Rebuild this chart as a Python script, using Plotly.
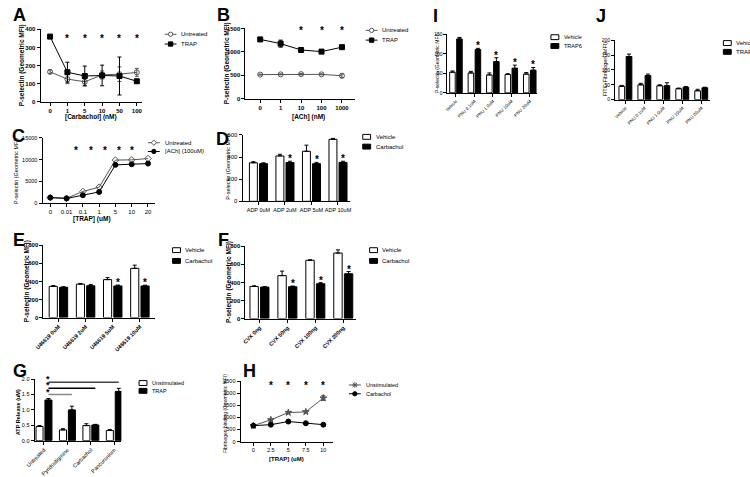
import plotly.graph_objects as go

# ---------------- data ----------------
A_conc = ["0", "1", "5", "10", "50", "100"]
A_untreated = [165, 125, 110, 148, 152, 162]
A_untreated_err = [10, 25, 20, 22, 40, 22]
A_trap = [360, 163, 142, 145, 142, 113]
A_trap_err = [0, 55, 55, 57, 105, 8]
A_sig = [1, 2, 3, 4, 5]

B_conc = ["0", "1", "10", "100", "1000"]
B_untreated = [515, 520, 525, 520, 490]
B_untreated_err = [10, 10, 15, 10, 40]
B_trap = [1265, 1175, 1040, 1005, 1100]
B_trap_err = [35, 75, 45, 20, 20]
B_sig = [2, 3, 4]

C_conc = ["0", "0.01", "0.1", "1", "5", "10", "20"]
C_untreated = [1300, 1150, 2700, 3700, 9900, 9950, 10250]
C_ach = [1300, 1100, 1850, 2600, 8800, 8950, 9100]

D_cats = ["ADP 0uM", "ADP 2uM", "ADP 5uM", "ADP 10uM"]
D_vehicle = [348, 410, 452, 560]
D_vehicle_err = [10, 15, 55, 8]
D_carb = [340, 350, 340, 352]
D_carb_err = [8, 12, 12, 10]
D_sig = [1, 2, 3]

E_cats = ["U46619 0uM", "U46619 2uM", "U46619 5uM", "U46619 10uM"]
E_vehicle = [345, 370, 420, 545]
E_vehicle_err = [10, 8, 22, 35]
E_carb = [335, 352, 350, 350]
E_carb_err = [6, 15, 10, 8]
E_sig = [2, 3]

F_cats = ["CVX 0ng", "CVX 50ng", "CVX 100ng", "CVX 200ng"]
F_vehicle = [355, 475, 645, 725]
F_vehicle_err = [8, 50, 5, 35]
F_carb = [348, 352, 385, 495]
F_carb_err = [5, 8, 12, 25]
F_sig = [1, 2, 3]

G_cats = ["Untreated", "Pyridostigmine", "Carbachol", "Pancuronium"]
G_unstim = [0.46, 0.35, 0.49, 0.33]
G_unstim_err = [0.03, 0.04, 0.06, 0.03]
G_trap = [1.32, 1.0, 0.51, 1.6]
G_trap_err = [0.05, 0.12, 0.02, 0.1]
G_compare = [1, 2, 3]           # groups compared with Untreated (TRAP)

H_trap_conc = [0, 2.5, 5, 7.5, 10]
H_unstim = [660, 900, 1200, 1230, 1800]
H_unstim_err = [20, 30, 30, 30, 100]
H_carb = [660, 700, 830, 760, 700]
H_sig = [2.5, 5, 7.5, 10]

I_cats = ["Vehicle", "PNU 0.1uM", "PNU 1.0uM", "PNU 10uM", "PNU 20uM"]
I_vehicle = [53, 51, 46, 47, 48]
I_vehicle_err = [3, 4, 5, 2, 4]
I_trap6 = [138, 111, 80, 63, 58]
I_trap6_err = [4, 3, 10, 8, 7]
I_sig = [1, 2, 3, 4]

J_cats = ["Vehicle", "PNU 0.1uM", "PNU 1.0uM", "PNU 10uM", "PNU 20uM"]
J_vehicle = [45, 50, 47, 37, 30]
J_vehicle_err = [3, 5, 3, 2, 5]
J_trap = [145, 81, 47, 42, 40]
J_trap_err = [8, 5, 10, 2, 2]

# ---------------- helpers ----------------
W, H = 750, 477
FONT = "Arial, Liberation Sans, sans-serif"
fig = go.Figure()
annotations = []
shapes = []
layout = {}


def fx(x):
    return x / W


def fy(y):
    return 1 - y / H


def ax_id(n):
    return ("x" if n == 1 else f"x{n}"), ("y" if n == 1 else f"y{n}")


def axes(n, x0, x1, ytop, ybot, xr, yr, xvals, xtext, yvals, ytext=None,
         tickangle=0, xfs=6, yfs=6, bold=False):
    key = "" if n == 1 else str(n)
    w = "bold" if bold else "normal"
    common = dict(showline=True, linecolor="black", linewidth=1, ticks="outside",
                  ticklen=3, tickwidth=1, tickcolor="black", showgrid=False,
                  zeroline=False, fixedrange=True)
    layout["xaxis" + key] = dict(domain=[fx(x0), fx(x1)], range=xr, anchor="y" + key,
                                 tickmode="array", tickvals=xvals, ticktext=xtext,
                                 tickangle=tickangle,
                                 tickfont=dict(size=xfs, family=FONT, color="black", weight=w),
                                 **common)
    if ytext is None:
        ytext = [f"{v:g}" for v in yvals]
    layout["yaxis" + key] = dict(domain=[fy(ybot), fy(ytop)], range=yr, anchor="x" + key,
                                 tickmode="array", tickvals=yvals, ticktext=ytext,
                                 tickfont=dict(size=yfs, family=FONT, color="black", weight=w),
                                 **common)


def text(x, y, s, size=6, bold=False, angle=0, xanchor="center", yanchor="middle"):
    annotations.append(dict(xref="paper", yref="paper", x=fx(x), y=fy(y),
                            text=f"<b>{s}</b>" if bold else s, showarrow=False,
                            textangle=angle, xanchor=xanchor, yanchor=yanchor,
                            font=dict(size=size, family=FONT, color="black")))


def letter(x, y, s):
    text(x, y, s, size=18, bold=True, xanchor="left", yanchor="top")


def star(n, x, y, size=10, yshift=-5):
    xa, ya = ax_id(n)
    annotations.append(dict(xref=xa, yref=ya, x=x, y=y, text="<b>*</b>", showarrow=False,
                            yanchor="bottom", yshift=yshift,
                            font=dict(size=size, family=FONT, color="black")))


def line_series(n, xs, ys, errs, symbol, color):
    xa, ya = ax_id(n)
    tr = dict(x=xs, y=ys, mode="lines+markers", xaxis=xa, yaxis=ya,
              line=dict(color=color, width=1), cliponaxis=False,
              marker=dict(symbol=symbol, size=5, color=color,
                          line=dict(color=color, width=1)))
    if errs is not None:
        tr["error_y"] = dict(type="data", array=errs, color=color, thickness=1, width=2)
    fig.add_trace(go.Scatter(**tr))


BW = 0.3
OFF_A = -0.34
OFF_B = 0.04


def bar_series(n, vals, errs, fill, offset):
    xa, ya = ax_id(n)
    fig.add_trace(go.Bar(x=list(range(len(vals))), y=vals, width=BW, offset=offset,
                         xaxis=xa, yaxis=ya,
                         marker=dict(color=fill, line=dict(color="black", width=1)),
                         error_y=dict(type="data", array=errs, arrayminus=[0] * len(errs),
                                      symmetric=False, color="black", thickness=1, width=2)))


def bar_stars(n, idxs, vals, errs, offset):
    for i in idxs:
        star(n, i + offset + BW / 2, vals[i] + errs[i])


def rect_px(x0, y0, x1, y1, fill, lw=1):
    shapes.append(dict(type="rect", xref="paper", yref="paper", x0=fx(x0), x1=fx(x1),
                       y0=fy(y1), y1=fy(y0), fillcolor=fill,
                       line=dict(color="black", width=lw)))


def legend_box(x, y, fill, label, size=6):
    rect_px(x, y - 2.5, x + 8, y + 2.5, fill)
    text(x + 11, y, label, size=size, xanchor="left")


def legend_line(x, y, symbol, color, label, size=6):
    shapes.append(dict(type="line", xref="paper", yref="paper", x0=fx(x), x1=fx(x + 12),
                       y0=fy(y), y1=fy(y), line=dict(color=color, width=1)))
    cx, r = x + 6, 2.2
    if symbol in ("circle", "circle-open"):
        shapes.append(dict(type="circle", xref="paper", yref="paper",
                           x0=fx(cx - r), x1=fx(cx + r), y0=fy(y + r), y1=fy(y - r),
                           fillcolor=color if symbol == "circle" else "white",
                           line=dict(color=color, width=1)))
    elif symbol == "square":
        shapes.append(dict(type="rect", xref="paper", yref="paper",
                           x0=fx(cx - r), x1=fx(cx + r), y0=fy(y + r), y1=fy(y - r),
                           fillcolor=color, line=dict(color=color, width=1)))
    elif symbol == "diamond-open":
        p = f"M {fx(cx - r - .5)},{fy(y)} L {fx(cx)},{fy(y - r - .5)} L {fx(cx + r + .5)},{fy(y)} L {fx(cx)},{fy(y + r + .5)} Z"
        shapes.append(dict(type="path", xref="paper", yref="paper", path=p,
                           fillcolor="white", line=dict(color=color, width=1)))
    elif symbol == "star":
        p = f"M {fx(cx - r - .5)},{fy(y)} L {fx(cx + r + .5)},{fy(y)} M {fx(cx)},{fy(y - r - .5)} L {fx(cx)},{fy(y + r + .5)}"
        p += f" M {fx(cx - r)},{fy(y - r)} L {fx(cx + r)},{fy(y + r)} M {fx(cx - r)},{fy(y + r)} L {fx(cx + r)},{fy(y - r)}"
        shapes.append(dict(type="path", xref="paper", yref="paper", path=p,
                           line=dict(color=color, width=1)))
    text(x + 15, y, label, size=size, xanchor="left")


GREY = "#555555"
YT = "P-selectin (Geometric MFI)"

# ---------------- Panel A ----------------
axes(1, 32, 135, 27, 101, [-0.55, 5.3], [0, 400],
     list(range(len(A_conc))), A_conc, [0, 100, 200, 300, 400], bold=True)
line_series(1, list(range(len(A_conc))), A_untreated, A_untreated_err, "circle-open", GREY)
line_series(1, list(range(len(A_conc))), A_trap, A_trap_err, "square", "black")
for i in A_sig:
    star(1, i, 335)
letter(2, 0, "A")
text(13, 64, YT, size=6.5, bold=True, angle=-90)
text(83, 117, "[Carbachol] (nM)", size=6.5, bold=True)
legend_line(158, 32, "circle-open", GREY, "Untreated")
legend_line(158, 42, "square", "black", "TRAP")

# ---------------- Panel B ----------------
axes(2, 240, 351, 26, 98, [-0.72, 4.63], [0, 1500],
     list(range(len(B_conc))), B_conc, [0, 500, 1000, 1500], bold=True)
line_series(2, list(range(len(B_conc))), B_untreated, B_untreated_err, "circle-open", GREY)
line_series(2, list(range(len(B_conc))), B_trap, B_trap_err, "square", "black")
for i in B_sig:
    star(2, i, 1400)
letter(209, 0, "B")
text(221, 62, YT, size=6.5, bold=True, angle=-90)
text(304, 117, "[ACh] (nM)", size=6.5, bold=True)
legend_line(362, 28, "circle-open", GREY, "Untreated")
legend_line(362, 38, "square", "black", "TRAP")

# ---------------- Panel C ----------------
axes(3, 34, 148, 138, 205, [-0.48, 6.42], [0, 15000],
     list(range(len(C_conc))), C_conc, [0, 5000, 10000, 15000], yfs=5.5)
line_series(3, list(range(len(C_conc))), C_untreated, None, "diamond-open", GREY)
line_series(3, list(range(len(C_conc))), C_ach, None, "circle", "black")
for xs in [1.6, 2.5, 3.35, 4.2, 5.0]:
    star(3, xs, 11500)
letter(1, 124, "C")
text(7, 172, YT, size=5.5, angle=-90)
text(84, 221, "[TRAP] (uM)", size=6.5, bold=True)
legend_line(141, 143, "diamond-open", GREY, "Untreated")
legend_line(141, 152, "circle", "black", "[ACh] (100uM)")

# ---------------- Panel D ----------------
axes(4, 237, 346, 135, 203, [-0.6, 3.45], [0, 600],
     list(range(len(D_cats))), D_cats, [0, 200, 400, 600], xfs=5.5)
bar_series(4, D_vehicle, D_vehicle_err, "white", OFF_A)
bar_series(4, D_carb, D_carb_err, "black", OFF_B)
bar_stars(4, D_sig, D_carb, D_carb_err, OFF_B)
letter(208, 127, "D")
text(222, 168, YT, size=5.5, angle=-90)
legend_box(359, 137, "white", "Vehicle")
legend_box(359, 147, "black", "Carbachol")

# ---------------- Panel E ----------------
axes(5, 35, 148, 248, 322, [-0.55, 3.55], [0, 800],
     list(range(len(E_cats))), E_cats, [0, 200, 400, 600, 800], tickangle=-45, xfs=5.5,
     bold=True)
bar_series(5, E_vehicle, E_vehicle_err, "white", OFF_A)
bar_series(5, E_carb, E_carb_err, "black", OFF_B)
bar_stars(5, E_sig, E_carb, E_carb_err, OFF_B)
letter(2, 230, "E")
text(19, 285, YT, size=6.5, bold=True, angle=-90)
legend_box(166, 253, "white", "Vehicle")
legend_box(166, 264, "black", "Carbachol")

# ---------------- Panel F ----------------
axes(6, 240, 352, 249, 323, [-0.5, 3.45], [0, 800],
     list(range(len(F_cats))), F_cats, [0, 200, 400, 600, 800], tickangle=-45, xfs=5.5,
     bold=True)
bar_series(6, F_vehicle, F_vehicle_err, "white", OFF_A)
bar_series(6, F_carb, F_carb_err, "black", OFF_B)
bar_stars(6, F_sig, F_carb, F_carb_err, OFF_B)
letter(210, 230, "F")
text(224, 286, YT, size=6.5, bold=True, angle=-90)
legend_box(366, 253, "white", "Vehicle")
legend_box(366, 264, "black", "Carbachol")

# ---------------- Panel G ----------------
axes(7, 26, 114, 385, 448, [-0.4, 3.3], [0, 2.0],
     list(range(len(G_cats))), G_cats, [0, 0.5, 1.0, 1.5, 2.0],
     ["0.0", "0.5", "1.0", "1.5", "2.0"], tickangle=-45, xfs=5.5, yfs=5.5)
bar_series(7, G_unstim, G_unstim_err, "white", OFF_A)
bar_series(7, G_trap, G_trap_err, "black", OFF_B)
g_line_y = [1.5, 1.7, 1.9]
g_line_c = ["#888888", "black", "#444444"]
gx0 = 0 + OFF_B + BW / 2
for k, j in enumerate(G_compare):
    shapes.append(dict(type="line", xref="x7", yref="y7", x0=gx0, x1=j + OFF_B + BW / 2,
                       y0=g_line_y[k], y1=g_line_y[k], line=dict(color=g_line_c[k], width=1.5)))
    star(7, gx0, g_line_y[k], size=9, yshift=-4)
letter(2, 364, "G")
text(9, 419, "ATP Release (uM)", size=5.5, bold=True, angle=-90)
legend_box(132, 389, "white", "Unstimulated", size=5.5)
legend_box(132, 397, "black", "TRAP", size=5.5)

# ---------------- Panel H ----------------
axes(8, 235, 329, 387, 449, [-1.83, 11.41], [0, 2500],
     H_trap_conc, ["0", "2.5", "5", "7.5", "10"], [0, 500, 1000, 1500, 2000, 2500],
     xfs=5.5, yfs=5.5)
line_series(8, H_trap_conc, H_unstim, H_unstim_err, "star", GREY)
line_series(8, H_trap_conc, H_carb, None, "circle", "black")
for xs in H_sig:
    star(8, xs, 2200)
letter(235, 364, "H")
text(220, 420, "Fibrinogen binding (Geometric MFI)", size=5, angle=-90)
text(282, 467, "[TRAP] (uM)", size=6, bold=True)
legend_line(345, 391, "star", GREY, "Unstimulated", size=5.5)
legend_line(345, 400, "circle", "black", "Carbachol", size=5.5)

# ---------------- Panel I ----------------
axes(9, 445, 536, 32, 92, [-0.46, 4.4], [0, 150],
     list(range(len(I_cats))), I_cats, [0, 50, 100, 150], tickangle=-45, xfs=4.5, yfs=5)
bar_series(9, I_vehicle, I_vehicle_err, "white", OFF_A)
bar_series(9, I_trap6, I_trap6_err, "black", OFF_B)
bar_stars(9, I_sig, I_trap6, I_trap6_err, OFF_B)
letter(428, 1, "I")
text(434, 62, YT, size=5, angle=-90)
legend_box(550, 35, "white", "Vehicle", size=5.5)
legend_box(550, 44, "black", "TRAP6", size=5.5)

# ---------------- Panel J ----------------
axes(10, 615, 711, 38, 99, [-0.55, 4.44], [0, 200],
     list(range(len(J_cats))), J_cats, [0, 50, 100, 150, 200], tickangle=-45, xfs=4.5, yfs=5)
bar_series(10, J_vehicle, J_vehicle_err, "white", OFF_A)
bar_series(10, J_trap, J_trap_err, "black", OFF_B)
letter(594, 1, "J")
text(605, 68, "FITC-Fibrinogen (MFI)", size=5.5, angle=-90)
legend_box(725, 41, "white", "Vehicle", size=6)
legend_box(725, 50, "black", "TRAP", size=6)

fig.update_layout(width=W, height=H, margin=dict(l=0, r=0, t=0, b=0),
                  paper_bgcolor="white", plot_bgcolor="white", showlegend=False,
                  barmode="overlay", font=dict(family=FONT, size=6, color="black"),
                  annotations=annotations, shapes=shapes, **layout)
fig.write_html("out.html", config={"displayModeBar": False},
               post_script="document.body.style.margin='0px';document.body.style.overflow='hidden';")
